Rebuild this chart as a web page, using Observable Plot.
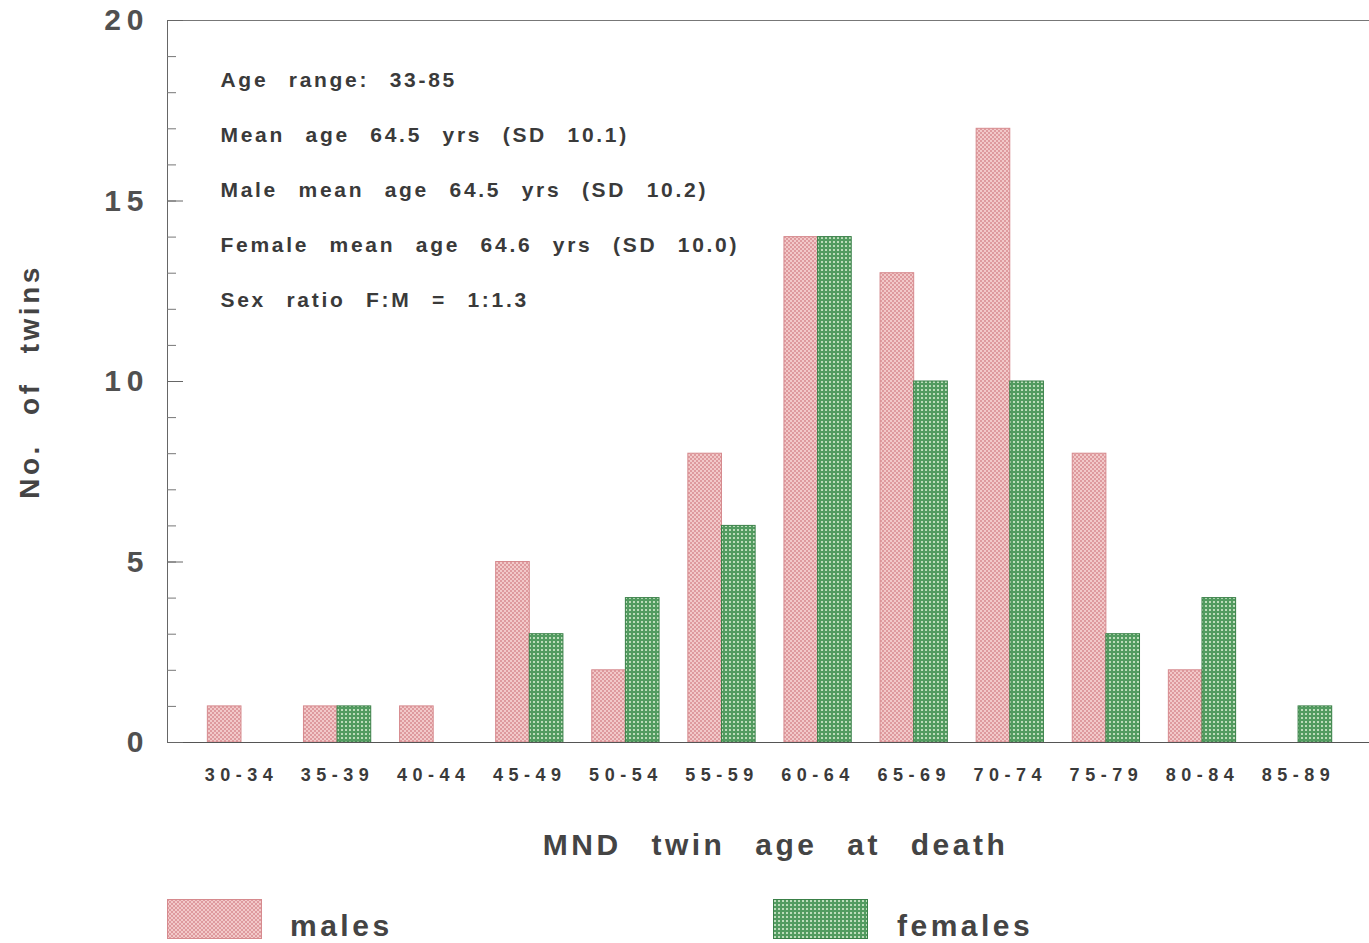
<!DOCTYPE html>
<html><head><meta charset="utf-8">
<script src="https://cdn.jsdelivr.net/npm/d3@7"></script>
<script src="https://cdn.jsdelivr.net/npm/@observablehq/plot@0.6"></script>
<style>
body{margin:0;background:#fff;font-family:"Liberation Sans",Arial,sans-serif;}
#legend{position:relative;height:63px;width:1369px;}
.sw{position:absolute;top:19px;}
.lt{position:absolute;top:31px;font-size:30px;line-height:30px;letter-spacing:3.5px;color:#444;font-weight:bold;}
g[aria-label="y-axis tick label"] text{letter-spacing:6px;}
g[aria-label="x-axis tick label"] text{letter-spacing:5.5px;}
</style></head>
<body>
<svg width="0" height="0" style="position:absolute">
<defs>
<pattern id="pMale" width="4" height="4" patternUnits="userSpaceOnUse">
<rect width="4" height="4" fill="#f2c9c9"/>
<rect width="2" height="2" fill="#de9a9e"/>
<rect x="2" y="2" width="2" height="2" fill="#de9a9e"/>
</pattern>
<pattern id="pFemale" width="4" height="4" patternUnits="userSpaceOnUse">
<rect width="4" height="4" fill="#529b60"/>
<rect x="1" y="1" width="2" height="2" rx="0.8" fill="#d2eacd"/>
</pattern>
</defs></svg>
<div id="chart"></div>
<div id="legend"></div>
<script>
const categories = ["30-34","35-39","40-44","45-49","50-54","55-59","60-64","65-69","70-74","75-79","80-84","85-89"];
const males   = [1,1,1,5,2,8,14,13,17,8,2,0];
const females = [0,1,0,3,4,6,14,10,10,3,4,1];
const series = ["males","females"];
const notes = [
  "Age range: 33-85",
  "Mean age 64.5 yrs (SD 10.1)",
  "Male mean age 64.5 yrs (SD 10.2)",
  "Female mean age 64.6 yrs (SD 10.0)",
  "Sex ratio F:M = 1:1.3"
];
const yMajor = [0,5,10,15,20];
const yMinor = d3.range(0,21);
const xLabel = "MND twin age at death";
const yLabel = "No. of twins";

const fills = {males:"url(#pMale)", females:"url(#pFemale)"};
const strokes = {males:"#d68a8e", females:"#3a8048"};
const BW = 0.35;
const bars = categories.flatMap((c,i)=>[
  {cat:c, i, sex:"males", x1:i-BW, x2:i, n:males[i]},
  {cat:c, i, sex:"females", x1:i, x2:i+BW, n:females[i]}
]).filter(d=>d.n>0);

const chart = Plot.plot({
  width:1369, height:880,
  marginLeft:167, marginRight:0, marginTop:20, marginBottom:138,
  style:{background:"transparent", fontFamily:"'Liberation Sans',Arial,sans-serif", color:"#444"},
  x:{type:"linear", domain:[-0.77, 11.738], axis:null},
  y:{domain:[0,20], axis:null},
  marks:[
    ...series.map(s=>Plot.rect(bars.filter(d=>d.sex===s), {x1:"x1", x2:"x2", y1:0, y2:"n", fill:fills[s], stroke:strokes[s], strokeWidth:1})),
    Plot.ruleY([0], {stroke:"#555", strokeWidth:1.2}),
    Plot.ruleY([20], {stroke:"#777", strokeWidth:1}),
    Plot.frame({anchor:"left", stroke:"#666"}),
    Plot.axisY(yMinor, {anchor:"left", tickSize:-9, tickFormat:()=>"", stroke:"#777", label:null}),
    Plot.axisY(yMajor, {anchor:"left", tickSize:-16, tickFormat:()=>"", stroke:"#666", label:null}),
    Plot.axisY(yMajor, {anchor:"left", tickSize:0, tickPadding:18, fontSize:30, fontWeight:"bold", fill:"#505050", label:null}),
    Plot.axisX(d3.range(categories.length), {anchor:"bottom", tickSize:0, tickPadding:26, tickFormat:i=>categories[i], fontSize:18, fontWeight:"bold", fill:"#3a3a3a", label:null}),
    Plot.text([notes.join("\n")], {frameAnchor:"top-left", dx:53, dy:27, lineHeight:2.62, textAnchor:"start", lineAnchor:"top", fontSize:21, fontWeight:"bold", fill:"#3a3a3a"}),
    Plot.text([xLabel], {frameAnchor:"bottom", dx:7, dy:103, textAnchor:"middle", lineAnchor:"middle", fontSize:30, fontWeight:"bold", fill:"#444"}),
    Plot.text([yLabel], {frameAnchor:"left", dx:-137, rotate:-90, textAnchor:"middle", lineAnchor:"middle", fontSize:28, fontWeight:"bold", fill:"#444"})
  ]
});
document.getElementById("chart").appendChild(chart);
const tg = d3.select(chart).selectAll('g[aria-label="text"]').nodes();
d3.select(tg[0]).selectAll("text").style("letter-spacing","2.7px").style("word-spacing","12px");
d3.select(tg[1]).selectAll("text").style("letter-spacing","3.5px").style("word-spacing","18px");
d3.select(tg[2]).selectAll("text").style("letter-spacing","3.5px").style("word-spacing","17px");

const leg = d3.select("#legend");
const legPos = {males:[167,290], females:[773,897]};
series.forEach(s=>{
  const sv = leg.append("svg").attr("class","sw").style("left",legPos[s][0]+"px").attr("width",95).attr("height",40);
  sv.append("rect").attr("x",0.5).attr("y",0.5).attr("width",94).attr("height",39).attr("fill",fills[s]).attr("stroke",strokes[s]);
  leg.append("span").attr("class","lt").style("left",legPos[s][1]+"px").text(s);
});
</script>
</body></html>
